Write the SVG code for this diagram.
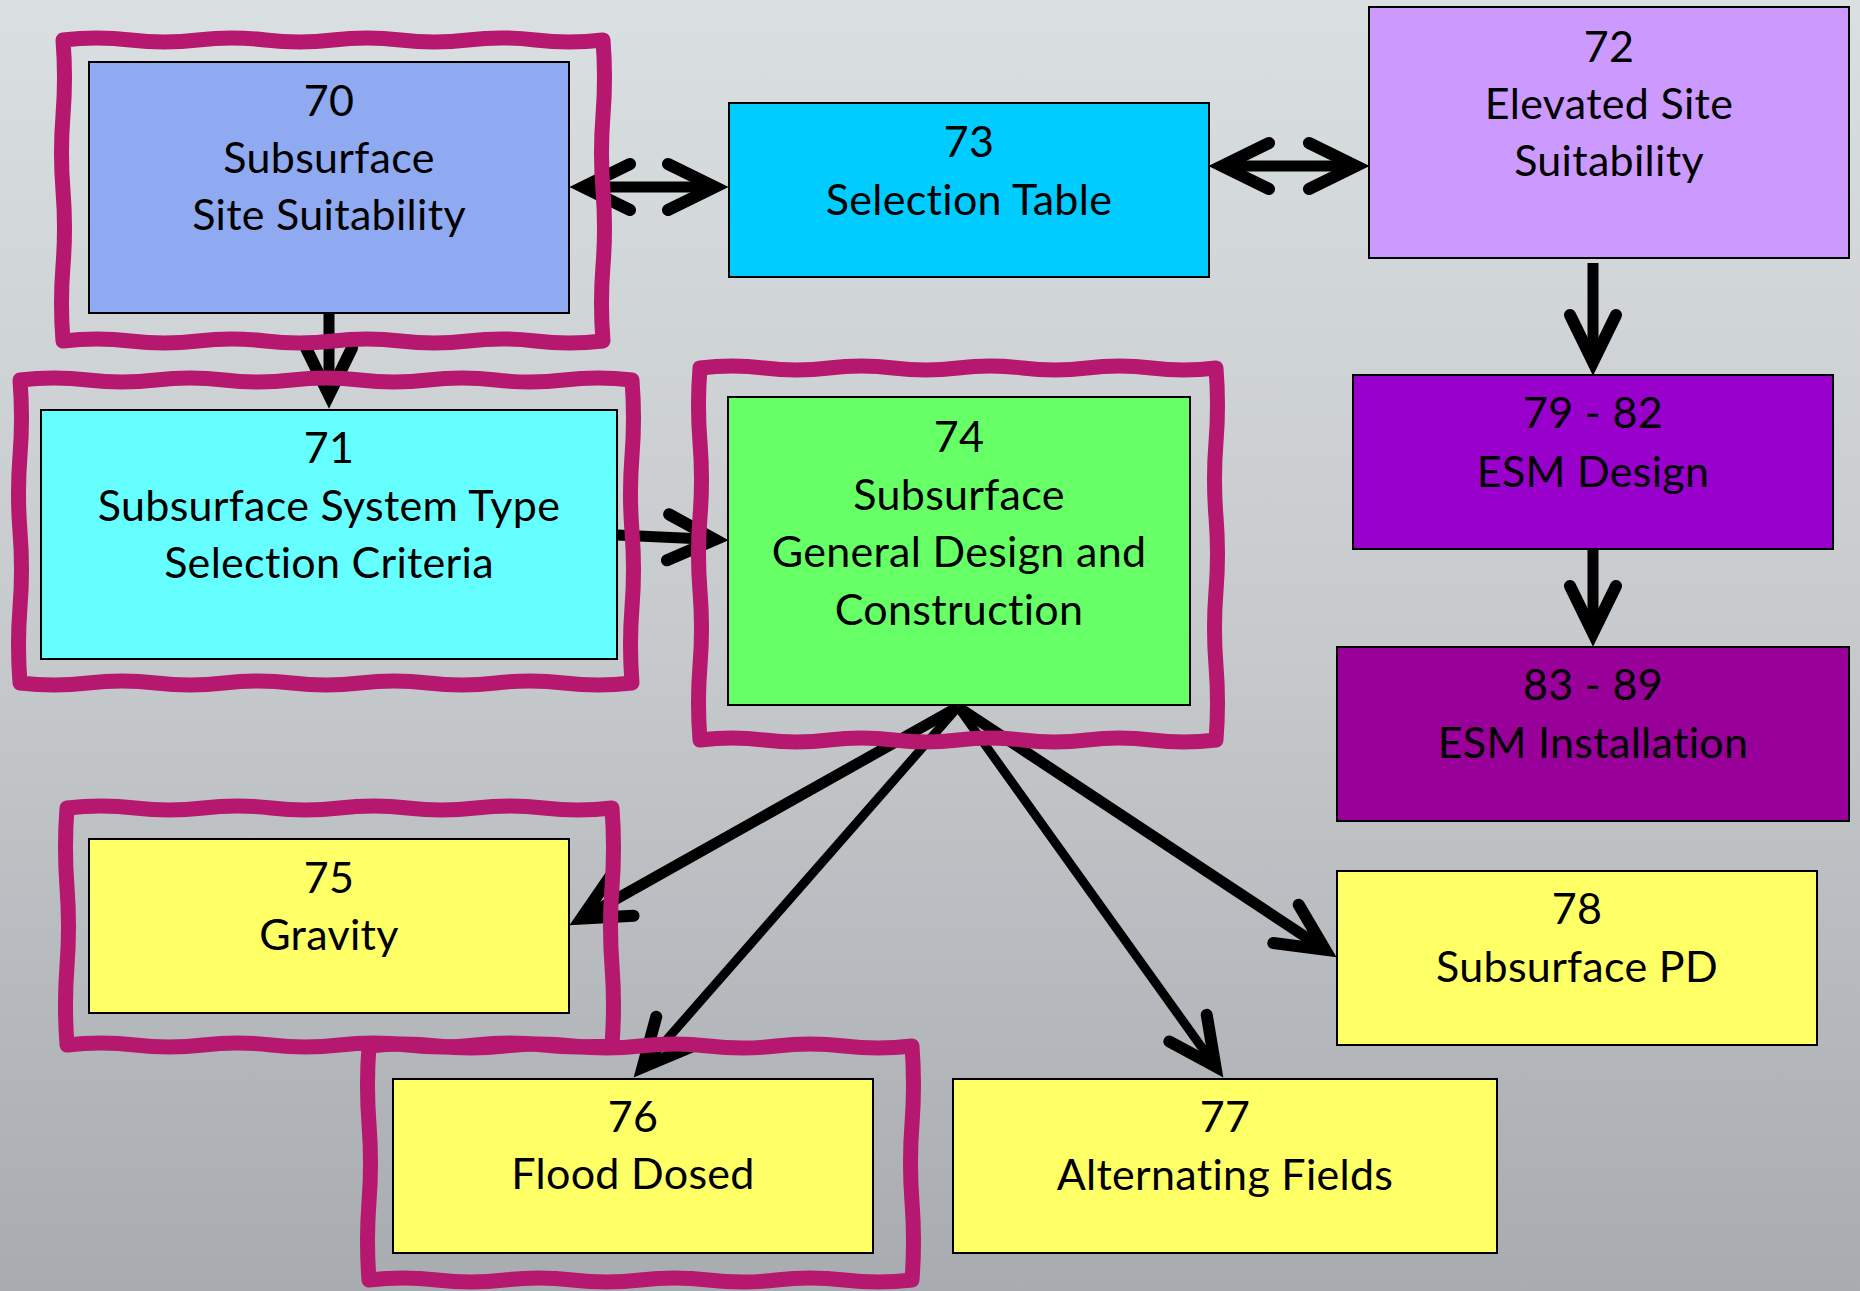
<svg xmlns="http://www.w3.org/2000/svg" width="1860" height="1291" viewBox="0 0 1860 1291">
<defs>
<linearGradient id="bg" x1="0" y1="0" x2="0" y2="1">
<stop offset="0" stop-color="#DADFE2"/>
<stop offset="0.5" stop-color="#C6CACD"/>
<stop offset="1" stop-color="#A8ACB0"/>
</linearGradient>
<marker id="chev" viewBox="-60 -30 75 60" refX="0" refY="0" markerWidth="75" markerHeight="60" markerUnits="userSpaceOnUse" orient="auto-start-reverse">
<path d="M -47 -23 L 0 0 L -47 23" fill="none" stroke="#000" stroke-width="12" stroke-linecap="round" stroke-linejoin="miter" stroke-miterlimit="10"/>
</marker>
<style>
.box{stroke:#000;stroke-width:2}
.t{font-family:Lato,"Open Sans","Liberation Sans",sans-serif;font-size:43px;fill:#000;text-anchor:middle;font-variant-ligatures:none;letter-spacing:0.3px}
.c{fill:none;stroke:#000;stroke-width:11;marker-end:url(#chev)}
.c2{fill:none;stroke:#000;stroke-width:11;marker-start:url(#chev);marker-end:url(#chev)}
.hl{fill:none;stroke:#B5186E;stroke-width:15;stroke-linejoin:round;stroke-linecap:round}
</style>
</defs>
<rect x="0" y="0" width="1860" height="1291" fill="url(#bg)"/>

<g id="connectors">
<path class="c2" d="M 583 187 L 715 187"/>
<path class="c2" d="M 1222 166 L 1356 166"/>
<path class="c" d="M 329 313 L 329 395"/>
<path class="c" d="M 617 535 L 715 539.5"/>
<path class="c" d="M 1593 263 L 1593 362"/>
<path class="c" d="M 1593 548 L 1593 633"/>
<path class="c" d="M 958 707 L 581.3 918.6"/>
<path class="c" style="stroke-width:9" d="M 958 707 L 642.6 1067.2"/>
<path class="c" style="stroke-width:9" d="M 958 707 L 1215.4 1066.4"/>
<path class="c" d="M 958 707 L 1325.2 949.8"/>
</g>

<g id="n70">
<rect class="box" x="89" y="62" width="480" height="251" fill="#8FAAF0"/>
<text class="t" x="329" y="116">70</text>
<text class="t" x="329" y="173">Subsurface</text>
<text class="t" x="329" y="230">Site Suitability</text>
</g>
<g id="n73">
<rect class="box" x="729" y="103" width="480" height="174" fill="#00CCFF"/>
<text class="t" x="969" y="157">73</text>
<text class="t" x="969" y="215">Selection Table</text>
</g>
<g id="n72">
<rect class="box" x="1369" y="7" width="480" height="251" fill="#CC99FF"/>
<text class="t" x="1609" y="62">72</text>
<text class="t" x="1609" y="119">Elevated Site</text>
<text class="t" x="1609" y="176">Suitability</text>
</g>
<g id="n71">
<rect class="box" x="41" y="410" width="576" height="249" fill="#66FFFF"/>
<text class="t" x="329" y="463">71</text>
<text class="t" x="329" y="521">Subsurface System Type</text>
<text class="t" x="329" y="578">Selection Criteria</text>
</g>
<g id="n74">
<rect class="box" x="728" y="397" width="462" height="308" fill="#66FF66"/>
<text class="t" x="959" y="452">74</text>
<text class="t" x="959" y="510">Subsurface</text>
<text class="t" x="959" y="567">General Design and</text>
<text class="t" x="959" y="625">Construction</text>
</g>
<g id="n79_82">
<rect class="box" x="1353" y="375" width="480" height="174" fill="#9900CC"/>
<text class="t" x="1593" y="428">79 - 82</text>
<text class="t" x="1593" y="487">ESM Design</text>
</g>
<g id="n83_89">
<rect class="box" x="1337" y="647" width="512" height="174" fill="#990099"/>
<text class="t" x="1593" y="700">83 - 89</text>
<text class="t" x="1593" y="758">ESM Installation</text>
</g>
<g id="n75">
<rect class="box" x="89" y="839" width="480" height="174" fill="#FFFF66"/>
<text class="t" x="329" y="893">75</text>
<text class="t" x="329" y="950">Gravity</text>
</g>
<g id="n76">
<rect class="box" x="393" y="1079" width="480" height="174" fill="#FFFF66"/>
<text class="t" x="633" y="1132">76</text>
<text class="t" x="633" y="1189">Flood Dosed</text>
</g>
<g id="n77">
<rect class="box" x="953" y="1079" width="544" height="174" fill="#FFFF66"/>
<text class="t" x="1225" y="1132">77</text>
<text class="t" x="1225" y="1190">Alternating Fields</text>
</g>
<g id="n78">
<rect class="box" x="1337" y="871" width="480" height="174" fill="#FFFF66"/>
<text class="t" x="1577" y="924">78</text>
<text class="t" x="1577" y="982">Subsurface PD</text>
</g>

<g id="highlights">
<path class="hl" d="M 63 40 Q 96.75 36 130.5 40 T 198 40 T 265.5 40 T 333 40 T 400.5 40 T 468 40 T 535.5 40 T 603 40 Q 606 77.6 603 115.25 T 603 190.5 T 603 265.75 T 603 341 Q 569.25 345 535.5 341 T 468 341 T 400.5 341 T 333 341 T 265.5 341 T 198 341 T 130.5 341 T 63 341 Q 60 303.4 63 265.75 T 63 190.5 T 63 115.25 T 63 40 Z"/>
<path class="hl" d="M 20 380 Q 54 376 88 380 T 156 380 T 224 380 T 292 380 T 360 380 T 428 380 T 496 380 T 564 380 T 632 380 Q 635 417.9 632 455.75 T 632 531.5 T 632 607.25 T 632 683 Q 598 687 564 683 T 496 683 T 428 683 T 360 683 T 292 683 T 224 683 T 156 683 T 88 683 T 20 683 Q 17 645.1 20 607.25 T 20 531.5 T 20 455.75 T 20 380 Z"/>
<path class="hl" d="M 700 368 Q 732.25 364 764.5 368 T 829 368 T 893.5 368 T 958 368 T 1022.5 368 T 1087 368 T 1151.5 368 T 1216 368 Q 1219 405.2 1216 442.4 T 1216 516.8 T 1216 591.2 T 1216 665.6 T 1216 740 Q 1183.75 744 1151.5 740 T 1087 740 T 1022.5 740 T 958 740 T 893.5 740 T 829 740 T 764.5 740 T 700 740 Q 697 702.8 700 665.6 T 700 591.2 T 700 516.8 T 700 442.4 T 700 368 Z"/>
<path class="hl" d="M 67 808 Q 101.06 804 135.125 808 T 203.25 808 T 271.375 808 T 339.5 808 T 407.625 808 T 475.75 808 T 543.875 808 T 612 808 Q 615 847.5 612 887 T 612 966 T 612 1045 Q 577.94 1049 543.875 1045 T 475.75 1045 T 407.625 1045 T 339.5 1045 T 271.375 1045 T 203.25 1045 T 135.125 1045 T 67 1045 Q 64 1005.5 67 966 T 67 887 T 67 808 Z"/>
<path class="hl" d="M 369 1046 Q 402.94 1042 436.875 1046 T 504.75 1046 T 572.625 1046 T 640.5 1046 T 708.375 1046 T 776.25 1046 T 844.125 1046 T 912 1046 Q 915 1085 912 1124 T 912 1202 T 912 1280 Q 878.06 1284 844.125 1280 T 776.25 1280 T 708.375 1280 T 640.5 1280 T 572.625 1280 T 504.75 1280 T 436.875 1280 T 369 1280 Q 366 1241 369 1202 T 369 1124 T 369 1046 Z"/>
</g>
</svg>
